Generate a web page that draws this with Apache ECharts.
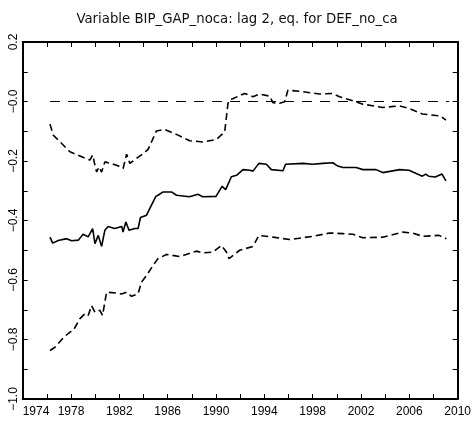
<!DOCTYPE html>
<html>
<head>
<meta charset="utf-8">
<script src="https://cdn.jsdelivr.net/npm/echarts@6/dist/echarts.min.js"></script>
<style>html,body{margin:0;padding:0;background:#fff;}#c{width:474px;height:424px;}</style>
</head>
<body>
<div id="c"></div>
<script>
const titleText = "Variable BIP_GAP_noca: lag 2, eq. for DEF_no_ca";

const midYears = [1976.26,1976.48,1976.94,1977.64,1978.05,1978.6,1979.0,1979.42,1979.79,1979.98,1980.25,1980.53,1980.8,1981.07,1981.6,1982.2,1982.3,1982.54,1982.8,1983.28,1983.55,1983.75,1984.25,1985.02,1985.2,1985.62,1986.31,1986.73,1987.8,1988.5,1988.9,1990.0,1990.5,1990.8,1991.27,1991.7,1992.23,1992.8,1993.06,1993.55,1994.17,1994.58,1995.54,1995.76,1997.19,1998.0,1998.84,1999.67,2000.08,2000.5,2001.6,2002.15,2003.25,2003.8,2005.2,2005.97,2007.08,2007.35,2007.6,2008.15,2008.7,2009.03];
const midVals = [-0.456,-0.476,-0.467,-0.461,-0.468,-0.466,-0.446,-0.455,-0.427,-0.478,-0.450,-0.487,-0.433,-0.420,-0.427,-0.420,-0.439,-0.405,-0.433,-0.427,-0.427,-0.390,-0.382,-0.319,-0.315,-0.304,-0.304,-0.315,-0.320,-0.312,-0.320,-0.319,-0.285,-0.296,-0.253,-0.248,-0.229,-0.231,-0.234,-0.208,-0.211,-0.229,-0.233,-0.211,-0.208,-0.211,-0.208,-0.206,-0.217,-0.222,-0.222,-0.229,-0.229,-0.239,-0.229,-0.231,-0.251,-0.244,-0.251,-0.254,-0.244,-0.267];

const upperYears = [1976.26,1976.53,1977.91,1979.56,1979.79,1979.98,1980.12,1980.31,1980.53,1980.8,1981.77,1982.31,1982.6,1982.87,1983.97,1984.38,1985.07,1985.76,1986.86,1987.83,1988.93,1990.03,1990.72,1990.99,1991.13,1992.37,1993.06,1993.61,1994.44,1994.71,1995.26,1995.68,1995.95,1997.19,1998.57,1999.67,2000.22,2001.6,2002.15,2003.8,2005.18,2005.97,2007.08,2008.6,2009.03];
const upperVals = [-0.076,-0.113,-0.169,-0.197,-0.180,-0.214,-0.237,-0.220,-0.237,-0.203,-0.214,-0.225,-0.177,-0.208,-0.175,-0.161,-0.099,-0.094,-0.113,-0.132,-0.136,-0.128,-0.102,-0.006,0.005,0.027,0.016,0.025,0.018,-0.004,-0.006,-0.001,0.038,0.033,0.025,0.027,0.016,-0.001,-0.009,-0.020,-0.015,-0.023,-0.042,-0.049,-0.063];

const lowerYears = [1976.26,1976.67,1977.36,1977.91,1978.18,1978.74,1979.16,1979.42,1979.7,1979.98,1980.39,1980.61,1980.94,1981.77,1982.18,1982.6,1983.0,1983.55,1983.83,1984.25,1984.79,1985.2,1985.9,1987.0,1988.38,1988.93,1989.75,1990.45,1990.86,1991.07,1991.96,1993.06,1993.55,1994.71,1996.09,1998.02,1999.4,2000.5,2001.32,2002.15,2003.8,2005.45,2006.28,2007.08,2008.46,2009.07];
const lowerVals = [-0.837,-0.826,-0.794,-0.775,-0.770,-0.730,-0.713,-0.719,-0.686,-0.708,-0.702,-0.719,-0.641,-0.644,-0.647,-0.641,-0.655,-0.646,-0.607,-0.585,-0.551,-0.528,-0.514,-0.521,-0.503,-0.509,-0.506,-0.484,-0.506,-0.528,-0.500,-0.487,-0.450,-0.456,-0.464,-0.453,-0.442,-0.444,-0.446,-0.458,-0.456,-0.439,-0.442,-0.453,-0.450,-0.461];

const zeroYears = [1976.26, 2009.3];
const zeroVals = [0, 0];

const xTickLabels = [1974,1978,1982,1986,1990,1994,1998,2002,2006,2010];
const yTickLabels = [0.2,0.0,-0.2,-0.4,-0.6,-0.8,-1.0];

function pairs(xs, ys){ return xs.map((x,i)=>[x, ys[i]]); }

const LFONT = "'Liberation Sans', sans-serif";
const TFONT = "'DejaVu Sans', sans-serif";
const axisLine = {show:true, onZero:false, lineStyle:{color:'#000', width:2}};
const axisTick = {show:true, inside:true, length:5, lineStyle:{color:'#000', width:1}};

function xFmt(v){ const y=Math.round(v); return xTickLabels.indexOf(y) >= 0 ? String(y) : ''; }
function yFmt(v){
  const n = Math.round(v*10);
  const ok = yTickLabels.some(t => Math.round(t*10) === n);
  if(!ok) return '';
  if(n > 0) return (n/10).toFixed(1);
  return '\u2212' + (Math.abs(n)/10).toFixed(1);
}

const chart = echarts.init(document.getElementById('c'), null, {renderer:'canvas'});
chart.setOption({
  animation:false,
  backgroundColor:'#fff',
  title:{text:titleText, left:'center', top:8, textStyle:{fontFamily:TFONT, fontSize:13.3, fontWeight:'normal', color:'#111'}},
  grid:{left:22.7, right:16, top:42, bottom:25, containLabel:false},
  xAxis:[
    {type:'value', position:'bottom', min:1974, max:2010, interval:2, axisLine, axisTick, splitLine:{show:false},
     axisLabel:{formatter:xFmt, fontFamily:LFONT, fontSize:12, color:'#000', margin:7, alignMinLabel:'left', showMinLabel:true, showMaxLabel:true}},
    {type:'value', position:'top', min:1974, max:2010, interval:2, axisLine, axisTick, splitLine:{show:false}, axisLabel:{show:false}}
  ],
  yAxis:[
    {type:'value', position:'left', min:-1.0, max:0.2, interval:0.1, axisLine, axisTick, splitLine:{show:false},
     axisLabel:{formatter:yFmt, rotate:90, fontFamily:LFONT, fontSize:12, color:'#000', margin:3, showMinLabel:true, showMaxLabel:true}},
    {type:'value', position:'right', min:-1.0, max:0.2, interval:0.1, axisLine, axisTick, splitLine:{show:false}, axisLabel:{show:false}}
  ],
  series:[
    {type:'line', data:pairs(zeroYears, zeroVals), showSymbol:false, lineStyle:{color:'#000', width:1.2, type:[10,8]}},
    {type:'line', data:pairs(upperYears, upperVals), showSymbol:false, lineStyle:{color:'#000', width:1.6, type:[7,4]}},
    {type:'line', data:pairs(midYears, midVals), showSymbol:false, lineStyle:{color:'#000', width:1.6}},
    {type:'line', data:pairs(lowerYears, lowerVals), showSymbol:false, lineStyle:{color:'#000', width:1.6, type:[7,4]}}
  ]
});
</script>
</body>
</html>
